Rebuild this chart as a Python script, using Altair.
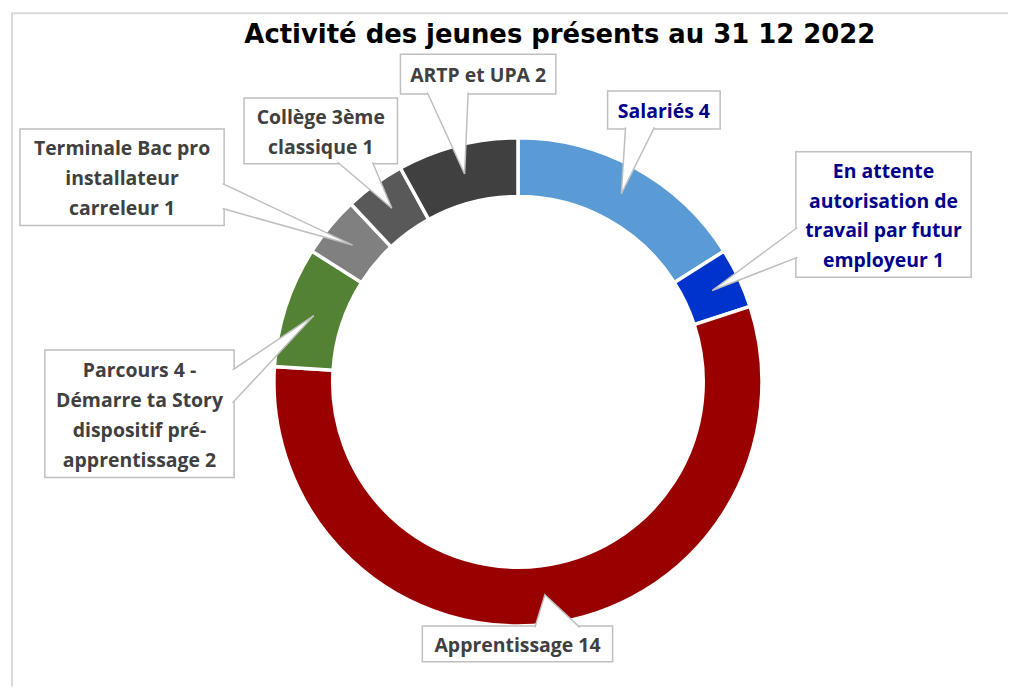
import math
import altair as alt
import pandas as pd

# ---- data ----
categories = [
    "Salariés",
    "En attente autorisation de travail par futur employeur",
    "Apprentissage",
    "Parcours 4 - Démarre ta Story dispositif pré-apprentissage",
    "Terminale Bac pro installateur carreleur",
    "Collège 3ème classique",
    "ARTP et UPA",
]
values = [4, 1, 14, 2, 1, 1, 2]
label_lines = [
    "Salariés 4",
    "En attente\nautorisation de\ntravail par futur\nemployeur 1",
    "Apprentissage 14",
    "Parcours 4 -\nDémarre ta Story\ndispositif pré-\napprentissage 2",
    "Terminale Bac pro\ninstallateur\ncarreleur 1",
    "Collège 3ème\nclassique 1",
    "ARTP et UPA 2",
]
title_text = "Activité des jeunes présents au 31 12 2022"

# ---- styles / layout (page coordinates, shifted to chart coordinates) ----
OX, OY = 10, 12
colors = ["#5B9BD5", "#0033CC", "#990000", "#548235", "#808080", "#595959", "#404040"]
text_colors = ["#00008B", "#00008B", "#404040", "#404040", "#404040", "#404040", "#404040"]
W, H = 1005, 676
CX, CY = 518 - OX, 382 - OY
R_OUT, R_IN = 245, 186
LH = 30
boxes = [
    (608, 90, 721, 128),
    (797, 151, 973, 277),
    (422, 627, 613, 663),
    (43, 350, 233, 478),
    (18, 128, 223, 225),
    (243, 97, 397, 163),
    (400, 53, 556, 93),
]
bases = [
    ((626, 126.5), (655, 126.5)),
    ((798.5, 227), (798.5, 257)),
    ((535, 628.5), (580, 628.5)),
    ((231.5, 370), (231.5, 403)),
    ((221.5, 183), (221.5, 208)),
    ((337, 161.5), (372, 161.5)),
    ((427, 91.5), (468, 91.5)),
]

total = sum(values)
arc_df = pd.DataFrame({"cat": categories, "value": values, "idx": list(range(len(values)))})

tips = []
cum = 0
rm = (R_OUT + R_IN) / 2
for v in values:
    a = (cum + v / 2) / total * 2 * math.pi
    tips.append((CX + rm * math.sin(a), CY - rm * math.cos(a)))
    cum += v

ptr_rows = []
for i, (b, t) in enumerate(zip(bases, tips)):
    pts = [(b[0][0] - OX, b[0][1] - OY), t, (b[1][0] - OX, b[1][1] - OY)]
    for s, (px, py) in enumerate(pts):
        ptr_rows.append({"cid": i, "seq": s, "px": px, "py": py})
ptr_df = pd.DataFrame(ptr_rows)

nlines = [len(s.split("\n")) for s in label_lines]
box_df = pd.DataFrame({
    "cid": list(range(len(boxes))),
    "x0": [b[0] - OX for b in boxes], "y0": [b[1] - OY for b in boxes],
    "x1": [b[2] - OX for b in boxes], "y1": [b[3] - OY for b in boxes],
    "tx": [(b[0] + b[2]) / 2 - OX for b in boxes],
    "ty": [(b[1] + b[3]) / 2 - OY + 2 - (n - 1) * LH / 2 for b, n in zip(boxes, nlines)],
    "label": label_lines,
    "tcolor": text_colors,
})

arcs = alt.Chart(arc_df).mark_arc(
    radius=R_OUT, radius2=R_IN, stroke="white", strokeWidth=3.5
).encode(
    theta=alt.Theta("value:Q", stack=True),
    order=alt.Order("idx:Q"),
    color=alt.Color("cat:N", scale=alt.Scale(domain=categories, range=colors), legend=None),
    x=alt.value(CX),
    y=alt.value(CY),
)

rects = alt.Chart(box_df).mark_rect(fill="white", stroke="#BFBFBF", strokeWidth=1.5).encode(
    x=alt.X("x0:Q", scale=None), x2="x1:Q",
    y=alt.Y("y0:Q", scale=None), y2="y1:Q",
)

pointers = alt.Chart(ptr_df).mark_line(
    fill="white", stroke="#BFBFBF", strokeWidth=1.5, interpolate="linear"
).encode(
    x=alt.X("px:Q", scale=None),
    y=alt.Y("py:Q", scale=None),
    detail="cid:N",
    order=alt.Order("seq:Q"),
)

texts = alt.Chart(box_df).mark_text(
    font="Open Sans", fontWeight="bold", fontSize=19.5, lineHeight=LH,
    lineBreak="\n", align="center", baseline="middle"
).encode(
    x=alt.X("tx:Q", scale=None),
    y=alt.Y("ty:Q", scale=None),
    text="label:N",
    color=alt.Color("tcolor:N", scale=None),
)

title_df = pd.DataFrame({"t": [title_text], "x": [560 - OX], "y": [42 - OY]})
title = alt.Chart(title_df).mark_text(
    font="DejaVu Sans", fontWeight="bold", fontSize=26, color="black",
    align="center", baseline="alphabetic"
).encode(x=alt.X("x:Q", scale=None), y=alt.Y("y:Q", scale=None), text="t:N")

frame_df = pd.DataFrame({"x": [0, 0, 1000], "y": [676, 0, 0], "s": [0, 1, 2]})
frame = alt.Chart(frame_df).mark_line(stroke="#D9D9D9", strokeWidth=2).encode(
    x=alt.X("x:Q", scale=None), y=alt.Y("y:Q", scale=None), order="s:Q"
)

chart = alt.layer(frame, arcs, rects, pointers, texts, title).properties(
    width=W, height=H, padding=0
).configure_view(strokeWidth=0)

chart.save("out.html", embed_options={"renderer": "svg", "actions": False})
